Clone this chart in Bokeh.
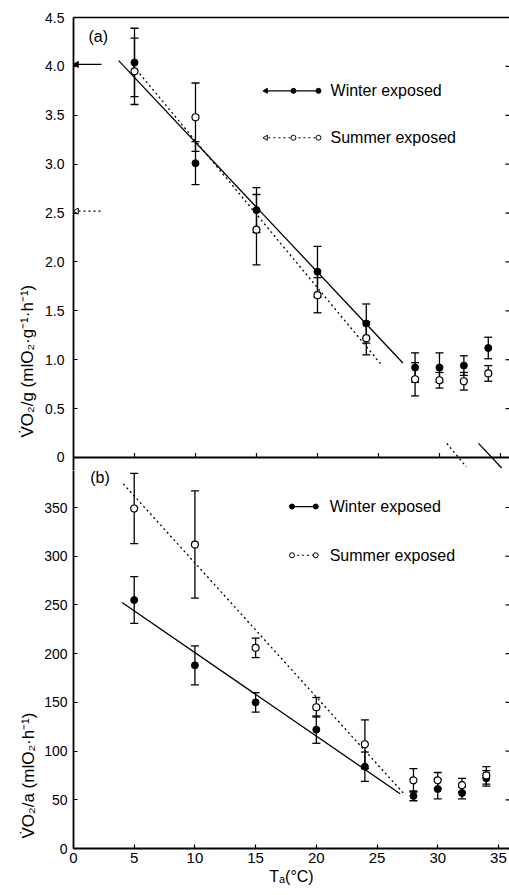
import numpy as np
from bokeh.plotting import figure
from bokeh.models import (Range1d, LinearAxis, FixedTicker, Whisker, TeeHead,
                          ColumnDataSource, Span, PrintfTickFormatter, Title)
from bokeh.layouts import column
from bokeh.embed import file_html
from bokeh.resources import INLINE
from bokeh.core.properties import value

FONT = "Liberation Sans"

# Ambient temperature (°C)
temps = [5, 10, 15, 20, 24, 28, 30, 32, 34]

# (a) mass-specific oxygen consumption, ml O2 g^-1 h^-1 (mean, SE)
winter_g = [4.04, 3.01, 2.53, 1.90, 1.37, 0.92, 0.92, 0.94, 1.12]
winter_g_err = [0.35, 0.22, 0.23, 0.26, 0.20, 0.15, 0.15, 0.10, 0.11]
summer_g = [3.95, 3.48, 2.33, 1.66, 1.22, 0.80, 0.79, 0.78, 0.86]
summer_g_err = [0.34, 0.35, 0.36, 0.18, 0.17, 0.17, 0.08, 0.09, 0.08]

# (a) reference levels marked at the y axis
ref_winter_g = 4.02
ref_summer_g = 2.52
ref_extent = [0.0, 2.3]

# (a) regression lines: intercept, slope, fitted range, extrapolated x-intercept mark
fit_winter_g = dict(b0=4.55, b1=-0.1327, span=[3.7, 27.0], mark=[33.2, 35.1])
fit_summer_g = dict(b0=4.74, b1=-0.1502, span=[4.9, 25.2], mark=[30.6, 32.2])

# (b) per-animal oxygen consumption, ml O2 h^-1 (mean, SE)
winter_a = [255, 188, 150, 122, 84, 54, 61, 57, 72]
winter_a_err = [24, 20, 10, 14, 15, 5, 10, 6, 8]
summer_a = [349, 312, 206, 145, 107, 70, 70, 65, 75]
summer_a_err = [36, 55, 10, 10, 25, 12, 8, 7, 9]

# (b) regression lines
fit_winter_a = dict(b0=286.8, b1=-8.57, span=[4.0, 26.9])
fit_summer_a = dict(b0=430.7, b1=-13.76, span=[4.1, 27.2])

# tick values
g_ticks = [0, 0.5, 1.0, 1.5, 2.0, 2.5, 3.0, 3.5, 4.0, 4.5]
a_ticks = [0, 50, 100, 150, 200, 250, 300, 350]
t_ticks = [0, 5, 10, 15, 20, 25, 30, 35]

labels = ["Winter exposed", "Summer exposed"]
ylab_g = "V̇O₂/g (mlO₂·g⁻¹·h⁻¹)"
ylab_a = "V̇O₂/a (mlO₂·h⁻¹)"
xlab = "Tₐ(°C)"

DOT = "2 3"
LW_AX = 1.8
X_END_TOP = 35.74
X_END_BOT = 35.91
TXT = "16px"
TTL = "17px"


def fit_xy(fit, rng):
    xs = np.array(rng, dtype=float)
    return xs, fit["b0"] + fit["b1"] * xs


def style_axis(ax, size="14px", standoff=6):
    ax.axis_line_width = LW_AX
    ax.axis_line_color = "black"
    ax.major_tick_in = 4
    ax.major_tick_out = 0
    ax.minor_tick_line_color = None
    ax.major_tick_line_width = 1.2
    ax.major_label_standoff = standoff
    ax.major_label_text_font = FONT
    ax.major_label_text_font_size = size
    ax.major_label_text_color = "black"


def side_title(text, offset, standoff):
    # vertical axis title, starting `offset` px above the bottom of the frame
    return Title(text=text, align="left", offset=offset, standoff=standoff,
                 text_font=FONT, text_font_size=TTL, text_font_style="normal",
                 text_color="black", vertical_align="bottom")


def add_errorbars(p, x, mean, err):
    up = [m + e for m, e in zip(mean, err)]
    lo = [m - e for m, e in zip(mean, err)]
    src = ColumnDataSource(dict(x=x, upper=up, lower=lo))
    w = Whisker(source=src, base="x", upper="upper", lower="lower",
                line_color="black", line_width=1.3,
                upper_head=TeeHead(size=8, line_color="black", line_width=1.3),
                lower_head=TeeHead(size=8, line_color="black", line_width=1.3))
    p.add_layout(w)


def right_ticks(p, x_end, ticks):
    # inward tick marks on the right edge (half of each dash lies inside the frame)
    p.scatter([x_end] * len(ticks), ticks, marker="dash", size=8,
              line_color="black", line_width=1.2)


def base_fig(width, height, xr, yr, left, top, bottom):
    p = figure(width=width, height=height, x_range=xr, y_range=yr,
               min_border_left=left, min_border_right=0,
               min_border_top=top, min_border_bottom=bottom,
               x_axis_location=None, y_axis_location=None,
               output_backend="svg", toolbar_location=None,
               background_fill_color="white", border_fill_color="white")
    p.grid.visible = False
    p.outline_line_color = None
    return p


# ---------------- panel (a) ----------------
top = base_fig(509, 470, Range1d(0, X_END_TOP), Range1d(-0.133, 4.5), 73, 17, 0)

ax = LinearAxis(ticker=FixedTicker(ticks=g_ticks), formatter=PrintfTickFormatter(format="%.1f"),
                major_label_overrides={0: "0"})
style_axis(ax, standoff=9)
top.add_layout(ax, "left")
top.add_layout(side_title(ylab_g, 33, 12), "left")

ax = LinearAxis(ticker=FixedTicker(ticks=[]))
style_axis(ax)
ax.axis_line_width = 1.5
top.add_layout(ax, "above")

# zero line of panel (a) with upward ticks
top.add_layout(Span(location=0, dimension="width", line_color="black", line_width=LW_AX))
top.segment(x0=t_ticks[1:], y0=0, x1=t_ticks[1:], y1=0.045, line_color="black", line_width=1.2)
right_ticks(top, X_END_TOP, g_ticks[1:])

add_errorbars(top, temps, winter_g, winter_g_err)
add_errorbars(top, temps, summer_g, summer_g_err)

for fit, dash in ((fit_winter_g, "solid"), (fit_summer_g, DOT)):
    xs, ys = fit_xy(fit, fit["span"])
    top.line(xs, ys, line_color="black", line_width=1.3, line_dash=dash)
    xs, ys = fit_xy(fit, fit["mark"])
    top.line(xs, ys, line_color="black", line_width=1.3, line_dash=dash)

top.scatter(temps, winter_g, marker="circle", size=7, fill_color="black", line_color="black")
top.scatter(temps, summer_g, marker="circle", size=7, fill_color="white",
            line_color="black", line_width=1.2)

# reference levels at the axis
top.line(ref_extent, [ref_winter_g] * 2, line_color="black", line_width=1.3)
top.line(ref_extent, [ref_summer_g] * 2, line_color="black", line_width=1.3, line_dash=DOT)
top.scatter([0.25], [ref_winter_g], marker="triangle", angle=np.pi / 2, size=6,
            fill_color="black", line_color="black")
top.scatter([0.25], [ref_summer_g], marker="triangle", angle=np.pi / 2, size=6,
            fill_color="white", line_color="black", line_width=1)

# key
key_x = [15.57, 18.03, 20.08]
key_y = [3.75, 3.27]
top.line([key_x[0], key_x[2]], [key_y[0]] * 2, line_color="black", line_width=1.2)
top.line([key_x[0], key_x[2]], [key_y[1]] * 2, line_color="black", line_width=1.2, line_dash=DOT)
top.scatter([key_x[0] + 0.2], [key_y[0]], marker="triangle", angle=np.pi / 2, size=5,
            fill_color="black", line_color="black")
top.scatter([key_x[0] + 0.2], [key_y[1]], marker="triangle", angle=np.pi / 2, size=5,
            fill_color="white", line_color="black")
top.scatter(key_x[1:], [key_y[0]] * 2, marker="circle", size=5, fill_color="black", line_color="black")
top.scatter(key_x[1:], [key_y[1]] * 2, marker="circle", size=5, fill_color="white", line_color="black")
top.text([21.07] * 2, key_y, text=labels, text_font=value(FONT), text_font_size=TXT,
         text_baseline="middle", text_align="left", text_color="black")
top.text([1.23], [4.31], text=["(a)"], text_font=value(FONT), text_font_size=TXT,
         text_baseline="middle", text_align="left", text_color="black")

# ---------------- panel (b) ----------------
bot = base_fig(509, 425, Range1d(0, X_END_BOT), Range1d(0, 388.0), 68, 0, 47)

ax = LinearAxis(ticker=FixedTicker(ticks=a_ticks))
style_axis(ax, standoff=6)
bot.add_layout(ax, "left")
bot.add_layout(side_title(ylab_a, 10, 8), "left")

ax = LinearAxis(ticker=FixedTicker(ticks=t_ticks))
style_axis(ax, size="15px", standoff=4)
bot.add_layout(ax, "below")
bot.add_layout(LinearAxis(ticker=FixedTicker(ticks=[]), bounds=(0, 5.2), axis_label=xlab,
                          axis_line_color=None, major_tick_line_color=None,
                          minor_tick_line_color=None, axis_label_standoff=2,
                          axis_label_text_font=FONT, axis_label_text_font_size=TXT,
                          axis_label_text_font_style="normal", axis_label_text_color="black"),
               "below")

right_ticks(bot, X_END_BOT, a_ticks[1:])

add_errorbars(bot, temps, winter_a, winter_a_err)
add_errorbars(bot, temps, summer_a, summer_a_err)

for fit, dash in ((fit_winter_a, "solid"), (fit_summer_a, DOT)):
    xs, ys = fit_xy(fit, fit["span"])
    bot.line(xs, ys, line_color="black", line_width=1.3, line_dash=dash)

bot.scatter(temps, winter_a, marker="circle", size=7, fill_color="black", line_color="black")
bot.scatter(temps, summer_a, marker="circle", size=7, fill_color="white",
            line_color="black", line_width=1.2)

key_xb = [18.0, 19.95]
key_yb = [351, 301]
bot.line(key_xb, [key_yb[0]] * 2, line_color="black", line_width=1.2)
bot.line(key_xb, [key_yb[1]] * 2, line_color="black", line_width=1.2, line_dash=DOT)
bot.scatter(key_xb, [key_yb[0]] * 2, marker="circle", size=5, fill_color="black", line_color="black")
bot.scatter(key_xb, [key_yb[1]] * 2, marker="circle", size=5, fill_color="white", line_color="black")
bot.text([21.1] * 2, key_yb, text=labels, text_font=value(FONT), text_font_size=TXT,
         text_baseline="middle", text_align="left", text_color="black")
bot.text([1.38], [381], text=["(b)"], text_font=value(FONT), text_font_size=TXT,
         text_baseline="middle", text_align="left", text_color="black")

layout = column(top, bot, spacing=0)
open("out.html", "w").write(file_html(layout, INLINE))
